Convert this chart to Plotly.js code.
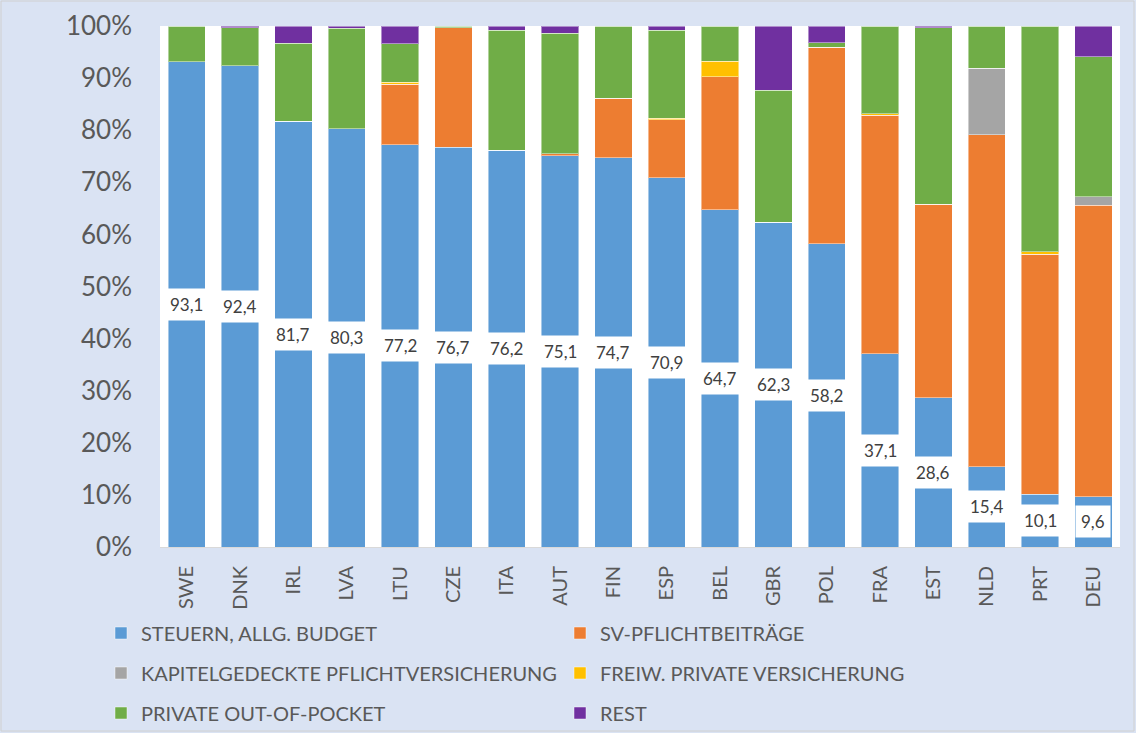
<!DOCTYPE html>
<html>
<head>
<meta charset="utf-8">
<script src="https://cdn.plot.ly/plotly-3.0.1.min.js"></script>
<style>html,body{margin:0;padding:0;background:#dae3f3;}#chart{width:1136px;height:733px;}</style>
</head>
<body>
<div id="chart"></div>
<script>
const categories = ["SWE","DNK","IRL","LVA","LTU","CZE","ITA","AUT","FIN","ESP","BEL","GBR","POL","FRA","EST","NLD","PRT","DEU"];
const steuern  = [93.1,92.4,81.7,80.3,77.2,76.7,76.2,75.1,74.7,70.9,64.7,62.3,58.2,37.1,28.6,15.4,10.1,9.6];
const svPflicht = [0,0,0,0,11.6,23.0,0,0.4,11.4,11.1,25.6,0,37.7,45.8,37.2,63.7,46.1,56.0];
const kapital  = [0,0,0,0,0,0,0,0,0,0,0,0,0,0,0,12.8,0,1.6];
const freiw    = [0,0,0,0,0.4,0,0,0,0,0.3,2.9,0,0,0.3,0,0,0.5,0];
const privat   = [6.9,7.3,15.0,19.3,7.4,0.3,23.0,23.1,13.9,16.9,6.8,25.4,0.9,16.8,33.9,8.1,43.3,26.9];
const rest     = [0,0.3,3.3,0.4,3.4,0,0.8,1.4,0,0.8,0,12.3,3.2,0,0.3,0,0,5.9];
const seriesNames = ["STEUERN, ALLG. BUDGET","SV-PFLICHTBEITRÄGE","KAPITELGEDECKTE PFLICHTVERSICHERUNG","FREIW. PRIVATE VERSICHERUNG","PRIVATE OUT-OF-POCKET","REST"];

const colors = ["#5b9bd5","#ed7d31","#a5a5a5","#ffc000","#70ad47","#7030a0"];
const seriesData = [steuern, svPflicht, kapital, freiw, privat, rest];
const legendIds = ["legend","legend","legend2","legend2","legend3","legend3"];
const FONT = "Lato, 'Open Sans', sans-serif";

const traces = seriesData.map((vals, i) => ({
  type: "bar",
  name: seriesNames[i],
  x: categories,
  y: vals,
  legend: legendIds[i],
  marker: {color: colors[i], line: {color: "rgba(255,255,255,0.45)", width: 1}},
  hoverinfo: "skip"
}));

const annotations = categories.map((c, i) => ({
  x: c, y: steuern[i] / 2, xref: "x", yref: "y",
  text: steuern[i].toFixed(1).replace(".", ","),
  showarrow: false,
  bgcolor: "#ffffff",
  borderpad: 5,
  font: {family: FONT, size: 17, color: "#404040"}
}));

function legendAt(yPix) {
  return {
    orientation: "h",
    x: 101 / 1136, xref: "container", xanchor: "left",
    y: (733 - yPix) / 733, yref: "container", yanchor: "middle",
    entrywidth: 414, entrywidthmode: "pixels",
    font: {family: FONT, size: 20, color: "#595959"},
    bgcolor: "rgba(0,0,0,0)",
    traceorder: "normal"
  };
}

const layout = {
  width: 1136, height: 733,
  paper_bgcolor: "#dae3f3",
  plot_bgcolor: "#ffffff",
  barmode: "stack",
  bargap: 0.3,
  margin: {l: 160, r: 16, t: 26, b: 186},
  showlegend: true,
  font: {family: FONT, color: "#595959"},
  xaxis: {
    type: "category",
    tickangle: -90,
    tickfont: {family: FONT, size: 20, color: "#595959"},
    showline: true, linecolor: "#d9d9d9", linewidth: 1,
    ticks: "", ticklabelstandoff: 10,
    showgrid: false
  },
  yaxis: {
    range: [0, 100], dtick: 10, ticksuffix: "%",
    tickfont: {family: FONT, size: 26, color: "#595959"},
    showgrid: false, zeroline: false, showline: false,
    ticks: "", ticklabelstandoff: 27
  },
  legend: legendAt(633),
  legend2: legendAt(673),
  legend3: legendAt(713),
  annotations: annotations,
  shapes: [{type: "rect", xref: "paper", yref: "paper",
    x0: (1 - 160) / 960, x1: (1134 - 160) / 960, y0: (547 - 731) / 521, y1: (547 - 1) / 521,
    line: {color: "#d0d0d0", width: 1}, fillcolor: "rgba(0,0,0,0)", layer: "above"}]
};

Plotly.newPlot("chart", traces, layout, {displayModeBar: false, staticPlot: true});
</script>
</body>
</html>
